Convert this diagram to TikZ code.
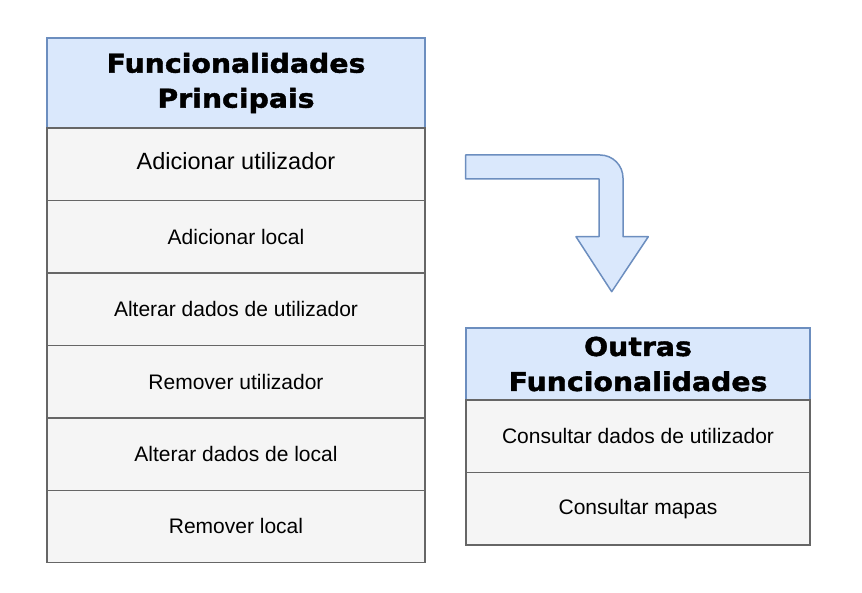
\documentclass[tikz,border=0pt]{standalone}
\usepackage{fontspec}
\setmainfont{Liberation Sans}
\newfontfamily\headfont{DejaVu Sans}[FakeStretch=1.09,FakeBold=1.6]
\usepackage{xcolor}
\usepackage{tikz}
\usetikzlibrary{positioning}
\usetikzlibrary{calc}
\definecolor{headblue}{HTML}{DAE8FC}
\definecolor{headline}{HTML}{6C8EBF}
\definecolor{rowgray}{HTML}{F5F5F5}
\definecolor{rowline}{HTML}{666666}
\tikzstyle{fnhead}=[rectangle,fill=headblue,outer sep=0pt,align=center,inner sep=0pt,font=\headfont\bfseries\fontsize{26}{35}\selectfont]
\tikzstyle{fnrow}=[rectangle,fill=rowgray,outer sep=0pt,inner sep=0pt,font=\fontsize{21}{25}\selectfont]
\tikzstyle{bigrow}=[fnrow,font=\fontsize{23.5}{28}\selectfont]
\tikzstyle{headedge}=[draw=headline,line width=1.5pt]
\tikzstyle{rowedge}=[draw=rowline,line width=1.5pt]
\tikzstyle{blockarrow}=[draw=headline,fill=headblue,line width=1.5pt,line join=round]

\begin{document}
\begin{tikzpicture}[x=1pt,y=-1pt]

  \useasboundingbox (0,0) rectangle (862,593);

  \def\lx{236};
  \def\rx{638};
  \def\dy{72.45};

  % main column
  \node[fnhead,minimum width=378pt,minimum height=90pt] (main) at (\lx,83) {Funcionalidades\\Principais};
  \node[bigrow,minimum width=378pt,minimum height=72.45pt] (M1) at (\lx,164.4) {\raisebox{6pt}{Adicionar utilizador}};

  \foreach \y/\name/\label in {2/M2/Adicionar local, 3/M3/Alterar dados de utilizador, 4/M4/Remover utilizador, 5/M5/Alterar dados de local, 6/M6/Remover local}
          \node[fnrow,minimum width=378pt,minimum height=72.45pt] (\name) at (\lx,{128+(\y-0.5)*\dy}) {\label};

  % other column
  \node[fnhead,minimum width=344pt,minimum height=72pt] (other) at (\rx,364) {Outras\\Funcionalidades};

  \foreach \y/\name/\label in {1/O1/Consultar dados de utilizador, 2/O2/Consultar mapas}
          \node[fnrow,minimum width=344pt,minimum height=72.5pt] (\name) at (\rx,{400+(\y-0.5)*72.5}) {\label};

  % borders on top of the fills
  \foreach \name in {main, other}
         \path[headedge] (\name.north west) rectangle (\name.south east);
  \foreach \name in {M1, M2, M3, M4, M5, M6, O1, O2}
         \path[rowedge] (\name.north west) rectangle (\name.south east);

  % bent arrow
  \coordinate (tail) at (465.7,155);
  \coordinate (tip) at (611.7,291.7);
  \path[blockarrow] (tail) -- (600,155) .. controls (612.7,155) and (623,165.3) .. (623,178)
        -- (623,236.7) -- (648.3,236.7) -- (tip) -- (576,236.7) -- (599,236.7)
        -- (599,179) -- (465.7,179) -- cycle;

\end{tikzpicture}
\end{document}
